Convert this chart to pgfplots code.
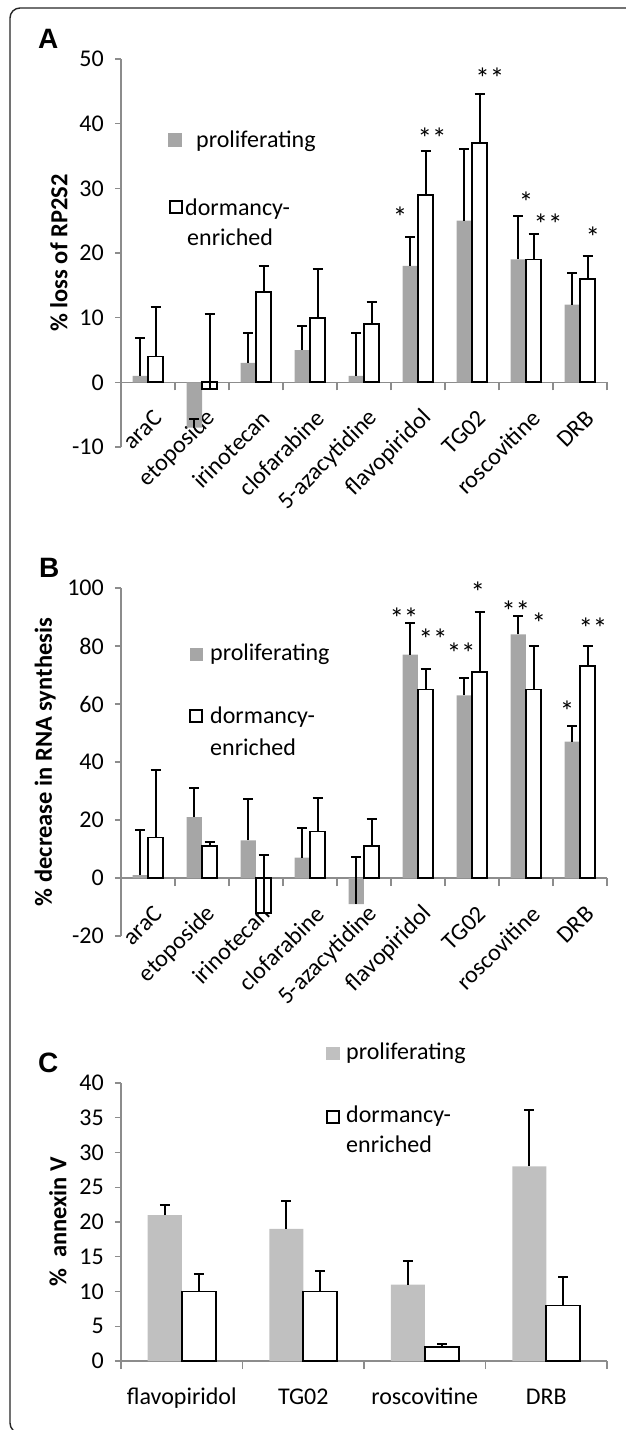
\documentclass[border=0pt]{standalone}
\usepackage{fontspec}
\setmainfont{Carlito}
\newfontfamily\arialfont{Liberation Sans}
\usepackage{pgfplots}
\usepackage{pgfplotstable}
\pgfplotsset{compat=1.18}
\definecolor{progray}{HTML}{A6A6A6}
\definecolor{prograyC}{HTML}{C0C0C0}
\definecolor{axgray}{HTML}{8C8C8C}

\pgfplotstableread{
x p pe d de
0 1 5.8 4 7.7
1 -7 1.3 -1 11.5
2 3 4.7 14 4
3 5 3.7 10 7.5
4 1 6.7 9 3.4
5 18 4.5 29 6.7
6 25 11.1 37 7.6
7 19 6.8 19 3.9
8 12 4.9 16 3.5
}\dataA

\pgfplotstableread{
x p pe d de
0 1 15.5 14 23.4
1 21 9.9 11 1.3
2 13 14.1 -12 20.1
3 7 10.3 16 11.5
4 -9 16.3 11 9.5
5 77 11.1 65 7
6 63 6.1 71 20.9
7 84 6.2 65 15
8 47 5.5 73 7
}\dataB

\pgfplotstableread{
x p pe d de
0 21 1.5 10 2.5
1 19 4 10 3
2 11 3.4 2 0.5
3 28 8.1 8 4.1
}\dataC

\newcommand{\tfont}{\fontsize{24}{28}\selectfont}
\newcommand{\sig}[3]{\node[font=\fontsize{29}{32}\selectfont,inner sep=0pt,anchor=center,yshift=-5pt] at (axis cs:#1,#2) {#3};}

\pgfplotsset{
  panel/.style={
    scale only axis, width=486pt,
    ybar=0pt, clip=false,
    axis y line*=left,
    axis line style={axgray, line width=1.4pt},
    tick style={axgray, line width=1.4pt},
    tick align=outside,
    major tick length=6pt, minor tick length=8pt,
    major x tick style={draw=none},
    enlargelimits=false,
    tick label style={font=\tfont, black},
    yticklabel style={inner sep=0pt, xshift=-11pt},
    ylabel style={font=\bfseries\fontsize{24.5}{28}\selectfont, anchor=center},
  },
  rotlab/.style={xticklabel style={inner sep=0pt, xshift=10pt, yshift=-26pt, rotate=45, anchor=east}},
  prol/.style={fill=#1, draw=none,
    error bars/.cd, y dir=plus, y explicit,
    error bar style={black, line width=2pt},
    error mark options={black, line width=2pt, mark size=5pt, rotate=90}},
  dorm/.style={fill=white, draw=black, line width=1.7pt,
    error bars/.cd, y dir=plus, y explicit,
    error bar style={black, line width=2pt},
    error mark options={black, line width=2pt, mark size=5pt, rotate=90}},
}

\begin{document}
\begin{tikzpicture}[x=1pt,y=1pt]
\path[use as bounding box] (0pt,0pt) rectangle (625pt,-1430pt);
\draw[line width=1.4pt, color=black!85, rounded corners=10pt] (10pt,-8pt) rectangle (700pt,-1433pt);

% ---------- Panel A ----------
\begin{axis}[panel, rotlab, at={(121pt,-447pt)}, anchor=south west, height=388pt,
  axis x line*=middle,
  xmin=-0.5, xmax=8.5, ymin=-10, ymax=50,
  ytick={-10,0,10,20,30,40,50}, yticklabels={-10,0,10,20,30,40,50},
  xtick={0,...,8}, minor xtick={-0.5,0.5,...,8.5},
  xticklabels={araC,etoposide,irinotecan,clofarabine,5-azacytidine,flavopiridol,TG02,roscovitine,DRB},
  bar width=15.3pt,
  ylabel={\% loss of RP2S2},
  ylabel style={at={(axis description cs:-0.128,0.5)}},
]
\addplot[prol=progray] table[x=x,y=p,y error=pe]{\dataA};
\addplot[dorm] table[x=x,y=d,y error=de]{\dataA};
\sig{4.667}{26.3}{*}
\sig{5.26}{38.6}{**}
\sig{6.33}{47.8}{**}
\sig{7.0}{28.6}{*}
\sig{7.41}{25.2}{**}
\sig{8.24}{23.2}{*}
\end{axis}

% ---------- Panel B ----------
\begin{axis}[panel, rotlab, at={(121pt,-936pt)}, anchor=south west, height=348pt,
  axis x line*=middle,
  xmin=-0.5, xmax=8.5, ymin=-20, ymax=100,
  ytick={-20,0,20,40,60,80,100}, yticklabels={-20,0,20,40,60,80,100},
  xtick={0,...,8}, minor xtick={-0.5,0.5,...,8.5},
  xticklabels={araC,etoposide,irinotecan,clofarabine,5-azacytidine,flavopiridol,TG02,roscovitine,DRB},
  bar width=15.3pt,
  ylabel={\% decrease in RNA synthesis},
  ylabel style={at={(axis description cs:-0.156,0.5)}},
]
\addplot[prol=progray] table[x=x,y=p,y error=pe]{\dataB};
\addplot[dorm] table[x=x,y=d,y error=de]{\dataB};
\sig{4.74}{91.4}{**}
\sig{5.28}{84.1}{**}
\sig{5.80}{79.3}{**}
\sig{6.11}{100.3}{*}
\sig{6.81}{93.8}{**}
\sig{7.24}{89.7}{*}
\sig{7.76}{59.3}{*}
\sig{8.24}{87.9}{**}
\end{axis}

% ---------- Panel C ----------
\begin{axis}[panel, at={(121pt,-1361pt)}, anchor=south west, height=278pt,
  axis x line*=bottom,
  xmin=-0.5, xmax=3.5, ymin=0, ymax=40,
  ytick={0,5,...,40}, yticklabels={0,5,10,15,20,25,30,35,40},
  xtick={0,...,3}, minor xtick={-0.5,0.5,...,3.5},
  xticklabels={flavopiridol,TG02,roscovitine,DRB},
  xticklabel style={anchor=base, inner sep=0pt, yshift=-37pt},
  bar width=34pt,
  ylabel={\%\ \ annexin V},
  ylabel style={at={(axis description cs:-0.13,0.5)}},
]
\addplot[prol=prograyC] table[x=x,y=p,y error=pe]{\dataC};
\addplot[dorm] table[x=x,y=d,y error=de]{\dataC};
\end{axis}

% ---------- panel letters ----------
\node[font=\arialfont\bfseries\fontsize{28}{32}\selectfont, inner sep=0pt, anchor=base west] at (38pt,-48pt) {A};
\node[font=\arialfont\bfseries\fontsize{28}{32}\selectfont, inner sep=0pt, anchor=base west] at (39pt,-577pt) {B};
\node[font=\arialfont\bfseries\fontsize{28}{32}\selectfont, inner sep=0pt, anchor=base west] at (38pt,-1072pt) {C};

% ---------- legends ----------
% A
\fill[progray] (168pt,-133pt) rectangle (182pt,-147pt);
\node[font=\tfont, inner sep=0pt, anchor=base west] at (196pt,-147pt) {proliferating};
\draw[black, line width=1.3pt] (170pt,-201pt) rectangle (182pt,-213pt);
\node[font=\tfont, inner sep=0pt, anchor=base west] at (185pt,-215pt) {dormancy-};
\node[font=\tfont, inner sep=0pt, anchor=base west] at (187pt,-245pt) {enriched};
% B
\fill[progray] (190pt,-648pt) rectangle (203pt,-661pt);
\node[font=\tfont, inner sep=0pt, anchor=base west] at (210pt,-660pt) {proliferating};
\draw[black, line width=1.3pt] (190pt,-710pt) rectangle (202pt,-722pt);
\node[font=\tfont, inner sep=0pt, anchor=base west] at (210pt,-723pt) {dormancy-};
\node[font=\tfont, inner sep=0pt, anchor=base west] at (210pt,-755pt) {enriched};
% C
\fill[prograyC] (326pt,-1047pt) rectangle (340pt,-1060pt);
\node[font=\tfont, inner sep=0pt, anchor=base west] at (346pt,-1059pt) {proliferating};
\draw[black, line width=1.3pt] (327pt,-1111pt) rectangle (339pt,-1123pt);
\node[font=\tfont, inner sep=0pt, anchor=base west] at (346pt,-1122pt) {dormancy-};
\node[font=\tfont, inner sep=0pt, anchor=base west] at (346pt,-1152pt) {enriched};
\end{tikzpicture}
\end{document}
